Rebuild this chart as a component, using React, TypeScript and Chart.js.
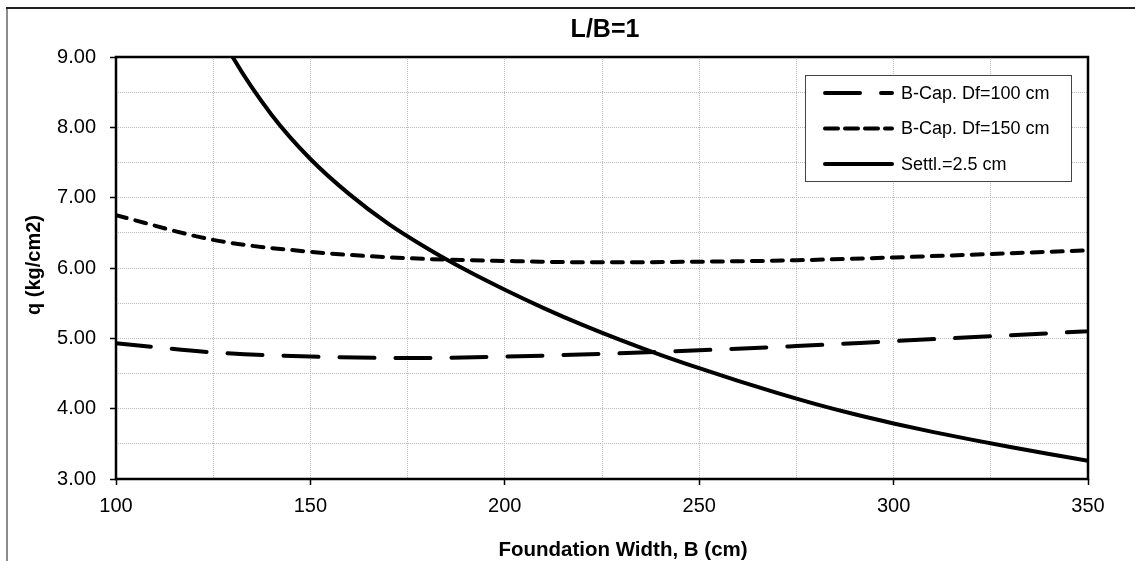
import React, { useEffect, useRef } from "react";
import { Chart, registerables } from "chart.js";

Chart.register(...registerables);

const chartTitle = "L/B=1";
const xAxisTitle = "Foundation Width, B (cm)";
const yAxisTitle = "q (kg/cm2)";
const seriesNames = ["B-Cap. Df=100 cm", "B-Cap. Df=150 cm", "Settl.=2.5 cm"];

const capWidths = [100, 125, 150, 175, 200, 225, 250, 275, 300, 325, 350];
const capDf100 = [4.93, 4.8, 4.74, 4.72, 4.74, 4.78, 4.83, 4.89, 4.96, 5.03, 5.1];
const capDf150 = [6.75, 6.4, 6.23, 6.14, 6.1, 6.08, 6.09, 6.11, 6.15, 6.2, 6.25];

const settlWidths = [120, 130, 140, 150, 160, 170, 180, 190, 200, 210, 220, 230, 240, 250, 260, 270, 280, 290, 300, 310, 320, 330, 340, 350];
const settlValues = [10.06, 9.0, 8.18, 7.55, 7.05, 6.63, 6.28, 5.97, 5.69, 5.43, 5.19, 4.97, 4.765, 4.575, 4.395, 4.225, 4.065, 3.92, 3.79, 3.67, 3.56, 3.455, 3.355, 3.26];

const xMin = 100;
const xMax = 350;
const xGridStep = 25;
const xLabelStep = 50;
const yMin = 3;
const yMax = 9;
const yGridStep = 0.5;

const FONT = "Arial, 'Liberation Sans', Helvetica, sans-serif";

const toPoints = (xs: number[], ys: number[]) => xs.map((x, i) => ({ x, y: ys[i] }));

const decorPlugin = {
  id: "decor",
  beforeDraw(chart: any) {
    const { ctx, width, height } = chart;
    ctx.save();
    ctx.fillStyle = "#ffffff";
    ctx.fillRect(0, 0, width, height);
    ctx.fillStyle = "#8c8c8c";
    ctx.fillRect(6, 8, 2, height - 8);
    ctx.fillStyle = "#222222";
    ctx.fillRect(6, 7, width - 6, 2);
    ctx.restore();
  },
  afterDatasetsDraw(chart: any) {
    const { ctx, chartArea } = chart;
    const { left, right, top, bottom } = chartArea;
    ctx.save();
    // plot frame
    ctx.strokeStyle = "#000";
    ctx.lineWidth = 2.5;
    ctx.setLineDash([]);
    ctx.strokeRect(left, top, right - left, bottom - top);

    // legend
    const boxL = right - 283;
    const boxT = top + 18;
    const boxW = 266;
    const boxH = 106;
    ctx.fillStyle = "#fff";
    ctx.fillRect(boxL, boxT, boxW, boxH);
    ctx.strokeStyle = "#444";
    ctx.lineWidth = 1;
    ctx.strokeRect(boxL + 0.5, boxT + 0.5, boxW, boxH);
    const rowY0 = boxT + 18;
    const rowGap = 35.5;
    chart.data.datasets.forEach((ds: any, i: number) => {
      const y = rowY0 + i * rowGap;
      ctx.strokeStyle = ds.borderColor;
      ctx.lineWidth = ds.borderWidth;
      ctx.lineCap = ds.borderCapStyle || "butt";
      ctx.setLineDash(ds.legendDash || ds.borderDash || []);
      ctx.beginPath();
      ctx.moveTo(boxL + 20, y);
      ctx.lineTo(boxL + 87, y);
      ctx.stroke();
      ctx.setLineDash([]);
      ctx.fillStyle = "#000";
      ctx.font = `18px ${FONT}`;
      ctx.textAlign = "left";
      ctx.textBaseline = "middle";
      ctx.fillText(ds.label, boxL + 96, y + 1);
    });
    ctx.restore();
  },
  afterDraw(chart: any) {
    const { ctx, chartArea } = chart;
    const { left, right, top, bottom } = chartArea;
    ctx.save();
    ctx.fillStyle = "#000";
    ctx.textAlign = "center";
    ctx.textBaseline = "alphabetic";
    ctx.font = `bold 25px ${FONT}`;
    ctx.fillText(chartTitle, (left + right) / 2 + 3, top - 20);
    ctx.font = `bold 20.5px ${FONT}`;
    ctx.fillText(xAxisTitle, (left + right) / 2 + 21, bottom + 77);
    ctx.translate(34, (top + bottom) / 2 - 3);
    ctx.rotate(-Math.PI / 2);
    ctx.textBaseline = "middle";
    ctx.font = `bold 20px ${FONT}`;
    ctx.fillText(yAxisTitle, 0, 0);
    ctx.restore();
  },
};

export default function App() {
  const canvasRef = useRef<HTMLCanvasElement | null>(null);

  useEffect(() => {
    const canvas = canvasRef.current;
    if (!canvas) return;
    const chart = new Chart(canvas, {
      type: "line",
      data: {
        datasets: [
          {
            label: seriesNames[0],
            data: toPoints(capWidths, capDf100),
            borderColor: "#000",
            borderWidth: 4,
            borderDash: [35, 21],
            borderCapStyle: "round",
            pointRadius: 0,
            fill: false,
            cubicInterpolationMode: "monotone",
          },
          {
            label: seriesNames[1],
            data: toPoints(capWidths, capDf150),
            borderColor: "#000",
            borderWidth: 4,
            borderDash: [11, 9],
            borderCapStyle: "round",
            legendDash: [13, 7],
            pointRadius: 0,
            fill: false,
            cubicInterpolationMode: "monotone",
          } as any,
          {
            label: seriesNames[2],
            data: toPoints(settlWidths, settlValues),
            borderColor: "#000",
            borderWidth: 4,
            borderCapStyle: "round",
            pointRadius: 0,
            fill: false,
            cubicInterpolationMode: "monotone",
          },
        ],
      },
      options: {
        responsive: false,
        animation: false,
        events: [],
        layout: { padding: { left: 0, top: 57, right: 47, bottom: 0 } },
        plugins: {
          legend: { display: false },
          title: { display: false },
          tooltip: { enabled: false },
        },
        scales: {
          x: {
            type: "linear",
            min: xMin,
            max: xMax,
            afterFit: (scale: any) => {
              scale.height = 82;
            },
            ticks: {
              stepSize: xGridStep,
              autoSkip: false,
              maxRotation: 0,
              padding: 9,
              color: "#000",
              font: { family: FONT, size: 20 },
              callback: (v: any) => (Number(v) % xLabelStep === 0 ? String(v) : ""),
            },
            grid: {
              color: "#bcbcbc",
              lineWidth: 1,
              drawTicks: true,
              tickLength: 6,
              tickWidth: 1.5,
              tickBorderDash: [],
              tickColor: (ctx: any) =>
                ctx.tick && ctx.tick.value % xLabelStep === 0 ? "#000" : "rgba(0,0,0,0)",
            },
            border: { display: false, dash: [1, 1] },
          },
          y: {
            type: "linear",
            min: yMin,
            max: yMax,
            afterFit: (scale: any) => {
              scale.width = 116;
            },
            ticks: {
              stepSize: yGridStep,
              autoSkip: false,
              padding: 14,
              color: "#000",
              font: { family: FONT, size: 20 },
              callback: (v: any) => (Number.isInteger(Number(v)) ? Number(v).toFixed(2) : ""),
            },
            grid: {
              color: "#bcbcbc",
              lineWidth: 1,
              drawTicks: true,
              tickLength: 6,
              tickWidth: 1.5,
              tickBorderDash: [],
              tickColor: (ctx: any) =>
                ctx.tick && Number.isInteger(ctx.tick.value) ? "#000" : "rgba(0,0,0,0)",
            },
            border: { display: false, dash: [1, 1] },
          },
        },
      } as any,
      plugins: [decorPlugin],
    });
    return () => chart.destroy();
  }, []);

  return (
    <div style={{ position: "fixed", left: 0, top: 0, width: 1135, height: 561, background: "#fff" }}>
      <canvas ref={canvasRef} width={1135} height={561} style={{ display: "block" }} />
    </div>
  );
}
